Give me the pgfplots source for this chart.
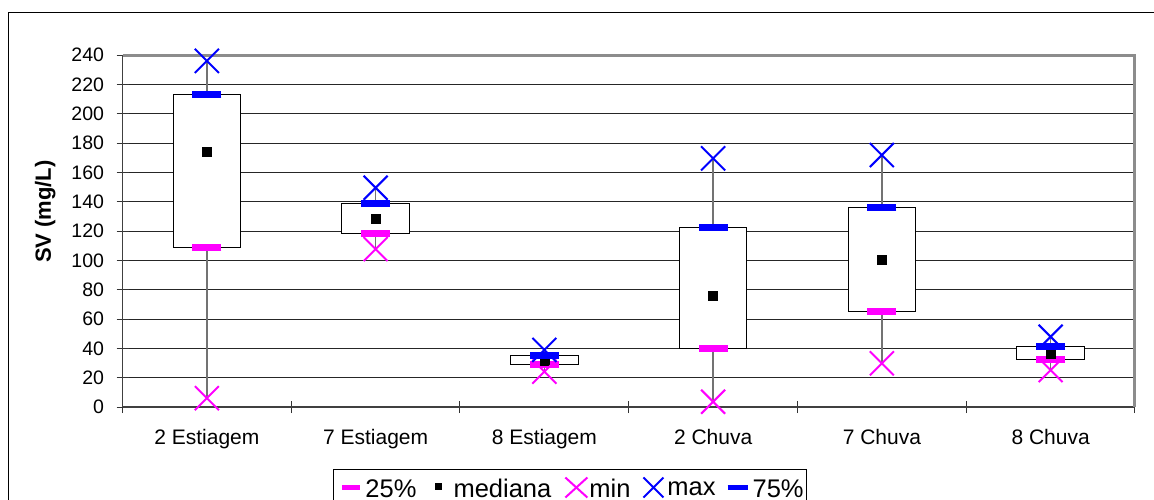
\documentclass[border=0pt]{standalone}
\usepackage{pgfplots}
\pgfplotsset{compat=1.18}
\usepackage{pgfplotstable}
\usepackage{fontspec}
\setmainfont{Liberation Sans}
\definecolor{mag}{RGB}{255,0,255}
\definecolor{blu}{RGB}{0,0,255}

\pgfplotstableread{
pos min q1 med q3 max
0 6 109 174 213 236
1 107.7 118.4 128.6 139 149.5
2 24.1 29.1 31.6 34.8 38.9
3 3.6 39.7 75.7 122.7 169.5
4 29.8 65.2 100.7 136.3 171.8
5 25.2 32.5 36.6 41.4 47.9
}\sv

\begin{document}
\begin{tikzpicture}
\path[use as bounding box, clip] (0pt,0pt) rectangle (1154pt,-499pt);
\draw[black, line width=1pt] (8.5pt,-12.5pt) rectangle (1200pt,-560pt);
\begin{axis}[
  at={(122.5pt,-407pt)}, anchor=south west,
  scale only axis, width=1012.5pt, height=352pt,
  xmin=-0.5, xmax=5.5, ymin=0, ymax=240,
  clip=false,
  axis x line*=bottom, axis y line*=left,
  axis line style={black!75, line width=1.5pt, -},
  ytick={0,20,...,240},
  xtick={-0.5,0.5,...,5.5},
  xticklabels={},
  extra x ticks={0,1,2,3,4,5},
  extra x tick labels={2 Estiagem,7 Estiagem,8 Estiagem,2 Chuva,7 Chuva,8 Chuva},
  extra x tick style={major tick length=0pt, xticklabel style={font=\fontsize{21}{25}\selectfont, yshift=-19pt}},
  tick align=center, major tick length=12pt,
  tick style={black!80, line width=1pt},
  ymajorgrids, major grid style={black!85, line width=0.8pt},
  yticklabel style={font=\fontsize{19.5}{23}\selectfont, xshift=-9pt},
  /pgf/number format/assume math mode=true,
  ylabel={SV (mg/L)},
  every axis y label/.style={at={(axis description cs:-0.0764,0.555)}, rotate=90, anchor=center, font=\bfseries\fontsize{22}{26}\selectfont},
  legend columns=-1,
  legend style={at={(axis description cs:0.2079,0)}, anchor=north west, yshift=-62pt,
    draw=black, line width=1pt, inner xsep=3pt, inner ysep=7pt,
    nodes={inner sep=0pt, text depth=0.2em},
    font=\fontsize{25.5}{30}\selectfont},
  legend cell align=left,
  unbounded coords=jump,
]
% whiskers (min to max)
\addplot[forget plot, black!55, line width=1.5pt] coordinates {
 (0,6) (0,236) (0,nan)
 (1,107.7) (1,149.5) (1,nan)
 (2,24.1) (2,38.9) (2,nan)
 (3,3.6) (3,169.5) (3,nan)
 (4,29.8) (4,171.8) (4,nan)
 (5,25.2) (5,47.9)
};
% boxes (q1 to q3)
\addplot[forget plot, draw=black, fill=white, line width=1pt] coordinates {(-0.2,109) (0.2,109) (0.2,213) (-0.2,213)} -- cycle;
\addplot[forget plot, draw=black, fill=white, line width=1pt] coordinates {(0.8,118.4) (1.2,118.4) (1.2,139) (0.8,139)} -- cycle;
\addplot[forget plot, draw=black, fill=white, line width=1pt] coordinates {(1.8,29.1) (2.2,29.1) (2.2,34.8) (1.8,34.8)} -- cycle;
\addplot[forget plot, draw=black, fill=white, line width=1pt] coordinates {(2.8,39.7) (3.2,39.7) (3.2,122.7) (2.8,122.7)} -- cycle;
\addplot[forget plot, draw=black, fill=white, line width=1pt] coordinates {(3.8,65.2) (4.2,65.2) (4.2,136.3) (3.8,136.3)} -- cycle;
\addplot[forget plot, draw=black, fill=white, line width=1pt] coordinates {(4.8,32.5) (5.2,32.5) (5.2,41.4) (4.8,41.4)} -- cycle;

% markers
\addplot[only marks, mark=-, mark size=14.5pt, color=mag, mark options={line width=7pt},
  legend image code/.code={\path[draw=none,fill=none] (0pt,0pt) -- (29pt,0pt); \draw[mag, line width=5pt] (6pt,1.75pt) -- (24pt,1.75pt);}]
  table[x=pos, y=q1] {\sv};
\addlegendentry{25\%}
\addplot[only marks, mark=square*, mark size=4.5pt, color=black,
  legend image code/.code={\path[draw=none,fill=none] (0pt,0pt) -- (37pt,0pt); \fill[black] (19pt,0.5pt) rectangle (24.5pt,6pt);}]
  table[x=pos, y=med] {\sv};
\addlegendentry{mediana}
\addplot[only marks, mark=x, mark size=17pt, color=mag, mark options={line width=2pt},
  legend image code/.code={\path[draw=none,fill=none] (0pt,0pt) -- (38pt,0pt); \draw[mag, line width=2pt] (14pt,-8pt) -- (36pt,12pt) (14pt,12pt) -- (36pt,-8pt);}]
  table[x=pos, y=min] {\sv};
\addlegendentry{min}
\addplot[only marks, mark=x, mark size=17pt, color=blu, mark options={line width=2pt},
  legend image code/.code={\path[draw=none,fill=none] (0pt,0pt) -- (37pt,0pt); \draw[blu, line width=2pt] (13pt,-8pt) -- (33pt,12pt) (13pt,12pt) -- (33pt,-8pt);}]
  table[x=pos, y=max] {\sv};
\addlegendentry{max}
\addplot[only marks, mark=-, mark size=14.5pt, color=blu, mark options={line width=7pt},
  legend image code/.code={\path[draw=none,fill=none] (0pt,0pt) -- (37pt,0pt); \draw[blu, line width=5pt] (12pt,1.75pt) -- (32pt,1.75pt);}]
  table[x=pos, y=q3] {\sv};
\addlegendentry{75\%}

\draw[black!45, line width=3pt] (rel axis cs:0,1) -- (rel axis cs:1,1) -- (rel axis cs:1,0);
\end{axis}
\end{tikzpicture}
\end{document}
